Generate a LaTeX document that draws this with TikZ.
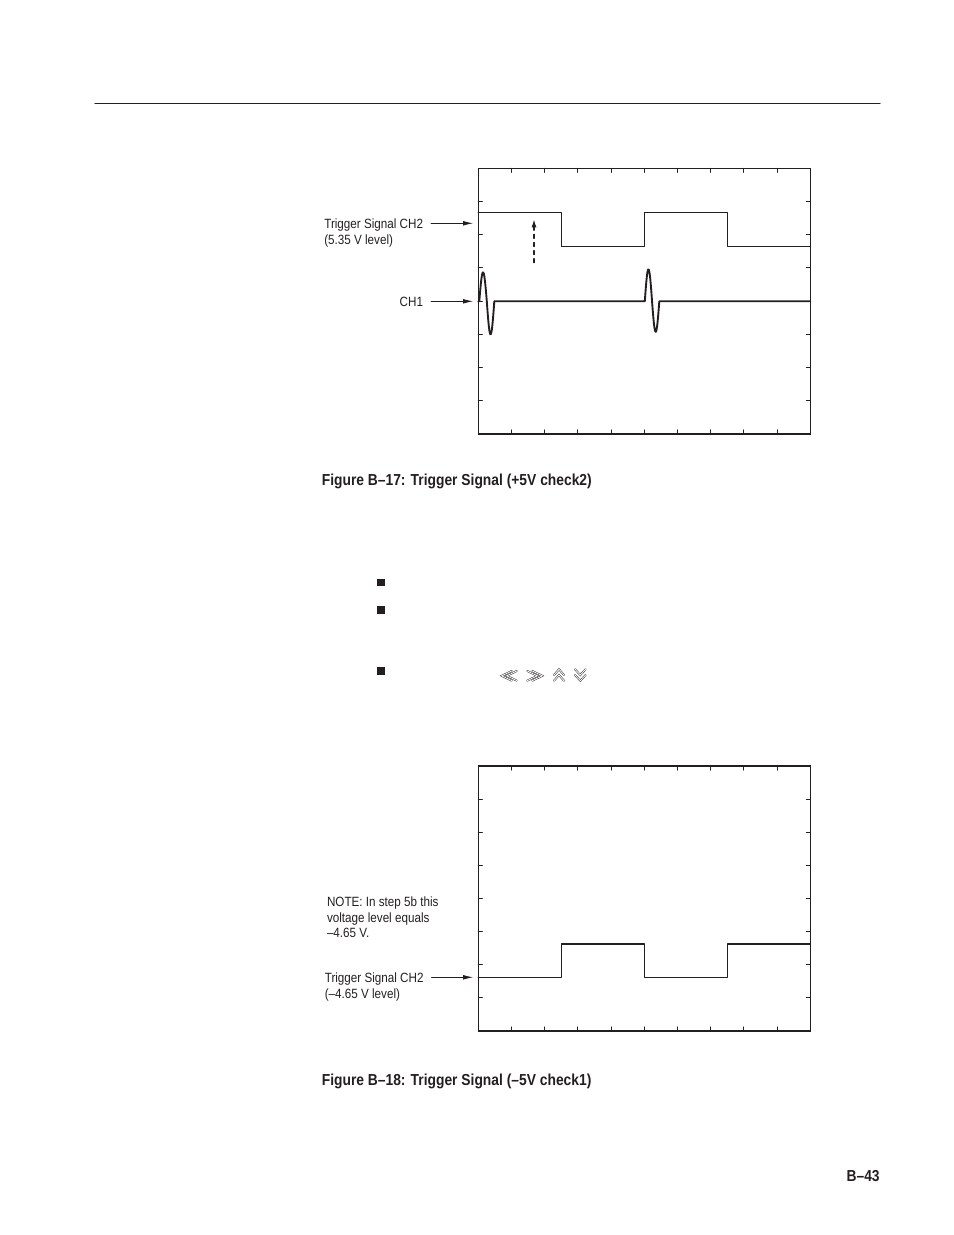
\documentclass[tikz,border=0pt]{standalone}
\usepackage{fontspec}
\setmainfont{Liberation Sans}[FakeStretch=0.87]
\usetikzlibrary{arrows.meta,positioning}
\definecolor{Ink}{RGB}{35,31,32}

\begin{document}
\begin{tikzpicture}[x=0.6415pt,y=-0.6415pt,line cap=round,line join=round,
  grat/.style={draw=Ink,line width=0.8pt,line join=miter},
  tick/.style={draw=Ink,line width=0.7pt},
  trace/.style={draw=Ink,line width=1pt},
  lbl/.style={text=Ink,inner sep=0pt,font=\fontsize{8.6}{10}\selectfont,text height=6.2pt,text depth=0pt},
  note/.style={text=Ink,inner sep=0pt,align=left,font=\fontsize{8.6}{10}\selectfont},
  figcap/.style={text=Ink,inner sep=0pt,font=\bfseries\fontsize{10.2}{12}\selectfont},
  sigarrow/.style={draw=Ink,line width=0.6pt,-{Latex[length=6.5pt,width=3pt]},shorten <=5pt},
  bulletsq/.style={fill=Ink,minimum size=5pt,inner sep=0pt},
  chev/.style={draw=Ink,double,double distance=0.55pt,line width=0.3pt,line join=miter}]
\path[use as bounding box] (0,0) rectangle (954,1235);
\draw[Ink,line width=0.8pt] (95,103.3) -- (880,103.3);
% Figure B-17
\draw[grat] (478.3,168.3) rectangle (810.3,434);
\draw[tick] (511.5,168.3) -- ++(0,4) (544.7,168.3) -- ++(0,4) (577.9,168.3) -- ++(0,4) (611.1,168.3) -- ++(0,4) (644.3,168.3) -- ++(0,4) (677.5,168.3) -- ++(0,4) (710.7,168.3) -- ++(0,4) (743.9,168.3) -- ++(0,4) (777.1,168.3) -- ++(0,4);
\draw[tick] (511.5,434) -- ++(0,-4) (544.7,434) -- ++(0,-4) (577.9,434) -- ++(0,-4) (611.1,434) -- ++(0,-4) (644.3,434) -- ++(0,-4) (677.5,434) -- ++(0,-4) (710.7,434) -- ++(0,-4) (743.9,434) -- ++(0,-4) (777.1,434) -- ++(0,-4);
\draw[tick] (478.3,201.5) -- ++(4,0) (478.3,234.7) -- ++(4,0) (478.3,267.9) -- ++(4,0) (478.3,301.1) -- ++(4,0) (478.3,334.3) -- ++(4,0) (478.3,367.5) -- ++(4,0) (478.3,400.7) -- ++(4,0);
\draw[tick] (810.3,201.5) -- ++(-4,0) (810.3,234.7) -- ++(-4,0) (810.3,267.9) -- ++(-4,0) (810.3,301.1) -- ++(-4,0) (810.3,334.3) -- ++(-4,0) (810.3,367.5) -- ++(-4,0) (810.3,400.7) -- ++(-4,0);
\draw[trace] (478.3,212.3) -- (561.3,212.3) -- (561.3,246.3) -- (644.3,246.3) -- (644.3,212.3) -- (727.3,212.3) -- (727.3,246.3) -- (810.3,246.3);
\draw[trace,line width=1.2pt] (478.3,301.3) -- plot[domain=0:360,samples=61] ({479.3+\x/360*15},{301.3-(\x<180?29:33)*sin(\x)}) -- (644.6,301.3) -- plot[domain=0:360,samples=61] ({644.8+\x/360*14.5},{301.3-(\x<180?32:30.5)*sin(\x)}) -- (810.3,301.3);
\coordinate (dashtail) at (534,262.7);
\coordinate (dashtip) at (534,219.5);
\draw[draw=Ink,line width=0.7pt,dash pattern=on 2.6pt off 2.6pt,-{Latex[length=5pt,width=3.2pt]}] (dashtail) -- (dashtip);
\node[lbl,anchor=west] (trigA) at (324,223.3) {Trigger Signal CH2};
\node[lbl,below=4pt of trigA.south west,anchor=north west] (levelA) {(5.35 V level)};
\node[lbl,anchor=east] (chone) at (423.3,301.3) {CH1};
\coordinate (trigtipA) at (473.3,223.3);
\coordinate (chtip) at (473.3,301.3);
\draw[sigarrow] (trigA.east) -- (trigtipA);
\draw[sigarrow] (chone.east) -- (chtip);
\node[figcap,anchor=base west] (capA) at (321.5,485) {Figure B–17: Trigger Signal (+5V check2)};
% bullets and button symbols
\node[bulletsq] (bulA) at (381,582.5) {};
\node[bulletsq] (bulB) at (381,610) {};
\node[bulletsq] (bulC) at (381,671.2) {};
\draw[chev] (511.7,671) -- (501.7,675.8) -- (511.7,680.6);
\draw[chev] (516.7,671) -- (506.7,675.8) -- (516.7,680.6);
\draw[chev] (527.3,671) -- (537.3,675.8) -- (527.3,680.6);
\draw[chev] (532.3,671) -- (542.3,675.8) -- (532.3,680.6);
\draw[chev] (554,675) -- (559,669.3) -- (564,675);
\draw[chev] (554,680.7) -- (559,675) -- (564,680.7);
\draw[chev] (575,669.3) -- (580.3,675) -- (585.6,669.3);
\draw[chev] (575,675) -- (580.3,680.7) -- (585.6,675);
% Figure B-18
\draw[grat] (478.3,766) rectangle (810.3,1031);
\draw[tick] (511.5,766) -- ++(0,4) (544.7,766) -- ++(0,4) (577.9,766) -- ++(0,4) (611.1,766) -- ++(0,4) (644.3,766) -- ++(0,4) (677.5,766) -- ++(0,4) (710.7,766) -- ++(0,4) (743.9,766) -- ++(0,4) (777.1,766) -- ++(0,4);
\draw[tick] (511.5,1031) -- ++(0,-4) (544.7,1031) -- ++(0,-4) (577.9,1031) -- ++(0,-4) (611.1,1031) -- ++(0,-4) (644.3,1031) -- ++(0,-4) (677.5,1031) -- ++(0,-4) (710.7,1031) -- ++(0,-4) (743.9,1031) -- ++(0,-4) (777.1,1031) -- ++(0,-4);
\draw[tick] (478.3,799.1) -- ++(4,0) (478.3,832.3) -- ++(4,0) (478.3,865.4) -- ++(4,0) (478.3,898.5) -- ++(4,0) (478.3,931.6) -- ++(4,0) (478.3,964.8) -- ++(4,0) (478.3,997.9) -- ++(4,0);
\draw[tick] (810.3,799.1) -- ++(-4,0) (810.3,832.3) -- ++(-4,0) (810.3,865.4) -- ++(-4,0) (810.3,898.5) -- ++(-4,0) (810.3,931.6) -- ++(-4,0) (810.3,964.8) -- ++(-4,0) (810.3,997.9) -- ++(-4,0);
\draw[trace] (478.3,977.3) -- (561.3,977.3) -- (561.3,944) -- (644.3,944) -- (644.3,977.3) -- (727.3,977.3) -- (727.3,944) -- (810.3,944);
\node[note,anchor=north west] (noteB) at (326.7,896.7) {NOTE: In step 5b this\\voltage level equals\\–4.65 V.};
\node[lbl,anchor=west] (trigB) at (324.5,977.3) {Trigger Signal CH2};
\node[lbl,below=4pt of trigB.south west,anchor=north west] (levelB) {(–4.65 V level)};
\coordinate (trigtipB) at (473.3,977.3);
\draw[sigarrow] (trigB.east) -- (trigtipB);
\node[figcap,anchor=base west] (capB) at (321.5,1085.5) {Figure B–18: Trigger Signal (–5V check1)};
\node[figcap,anchor=base east] (pgnum) at (880,1181) {B–43};
\end{tikzpicture}
\end{document}
